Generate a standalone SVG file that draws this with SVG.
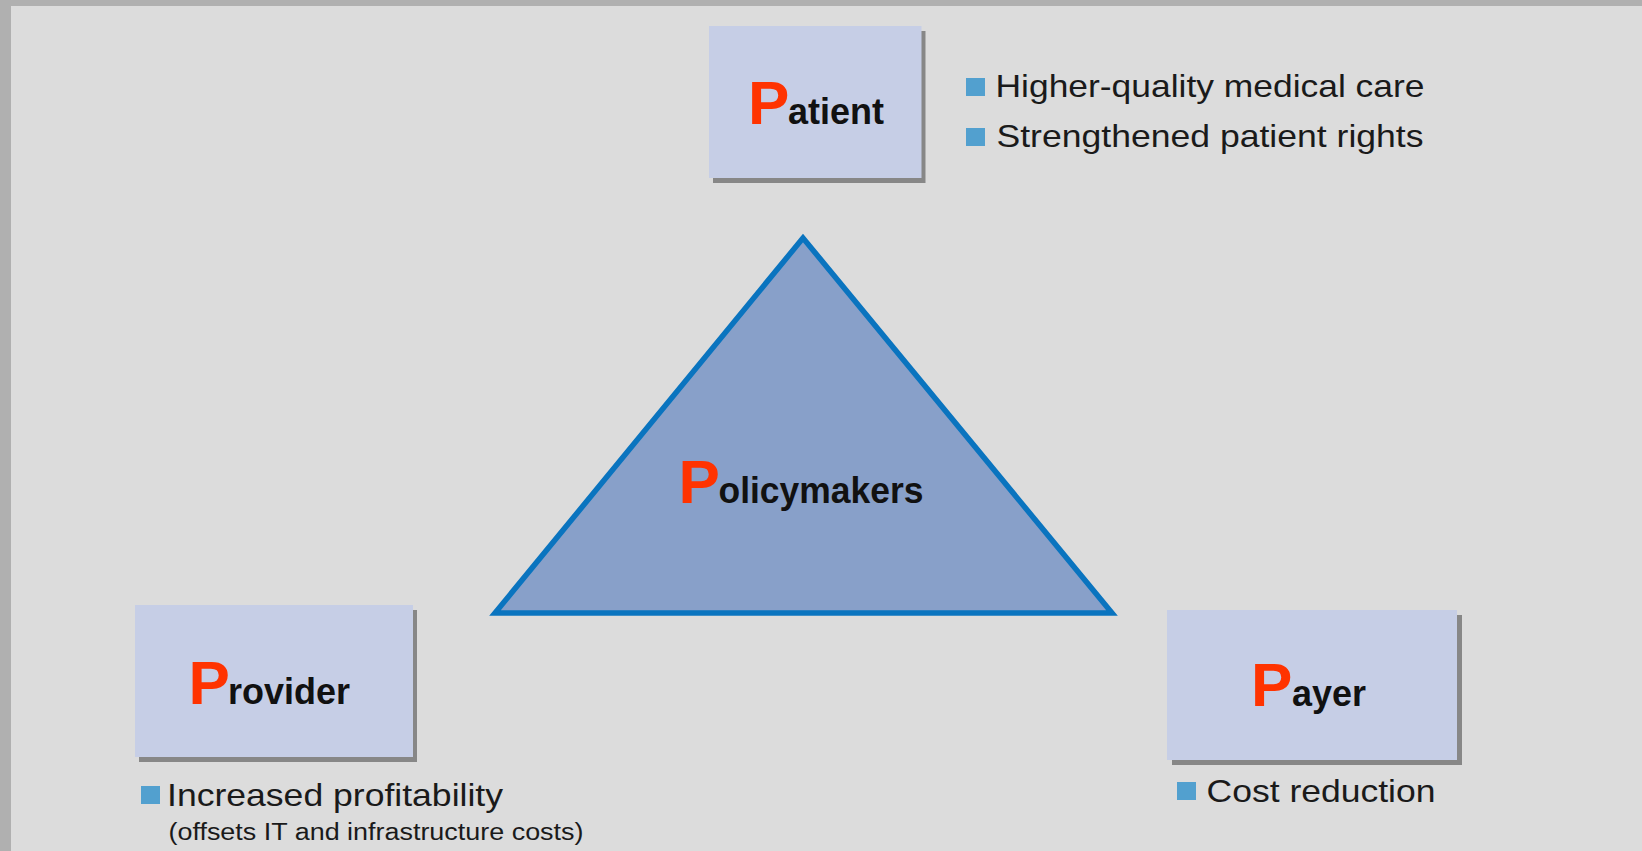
<svg xmlns="http://www.w3.org/2000/svg" width="1642" height="851" viewBox="0 0 1642 851">
<style>
.box{fill:#c6cee6}
.shadow{fill:#878787}
.bigP{font-family:"Liberation Sans",Arial,sans-serif;font-weight:bold;font-size:62px;fill:#ff3300}
.lbl{font-family:"Liberation Sans",Arial,sans-serif;font-weight:bold;font-size:37px;fill:#111}
.txt{font-family:"Liberation Sans",Arial,sans-serif;font-size:31.5px;fill:#1a1a1a}
.sub{font-family:"Liberation Sans",Arial,sans-serif;font-size:23.5px;fill:#1a1a1a}
.bul{fill:#52a0cf}
</style>
<rect x="0" y="0" width="1642" height="851" fill="#dcdcdc"/>
<rect x="0" y="0" width="1642" height="6" fill="#b0b0b0"/>
<rect x="0" y="0" width="11" height="851" fill="#b0b0b0"/>
<g id="connectors"/>
<g id="policymakers">
<polygon points="803,238 495,613 1112,613" fill="#88a0c9" stroke="#0a74bf" stroke-width="5.5" stroke-linejoin="miter"/>
<text class="bigP" x="678.5" y="503">P</text>
<text class="lbl" x="718.5" y="503" textLength="205" lengthAdjust="spacingAndGlyphs">olicymakers</text>
</g>
<g id="patient">
<rect class="shadow" x="713" y="31" width="212.5" height="152"/>
<rect class="box" x="709" y="26" width="212.5" height="152"/>
<text class="bigP" x="748" y="124">P</text>
<text class="lbl" x="788" y="124" textLength="96" lengthAdjust="spacingAndGlyphs">atient</text>
</g>
<g id="patient-benefits">
<rect class="bul" x="966" y="78" width="19" height="18"/>
<text class="txt" x="995.5" y="97" textLength="429" lengthAdjust="spacingAndGlyphs">Higher-quality medical care</text>
<rect class="bul" x="966" y="128" width="19" height="18"/>
<text class="txt" x="996.5" y="147" textLength="427" lengthAdjust="spacingAndGlyphs">Strengthened patient rights</text>
</g>
<g id="provider">
<rect class="shadow" x="139" y="610" width="278" height="152"/>
<rect class="box" x="135" y="605" width="278" height="152"/>
<text class="bigP" x="188.5" y="704">P</text>
<text class="lbl" x="228" y="704" textLength="122" lengthAdjust="spacingAndGlyphs">rovider</text>
</g>
<g id="provider-benefits">
<rect class="bul" x="141" y="786" width="19" height="18"/>
<text class="txt" x="167" y="806" textLength="336" lengthAdjust="spacingAndGlyphs">Increased profitability</text>
<text class="sub" x="168.5" y="840" textLength="415" lengthAdjust="spacingAndGlyphs">(offsets IT and infrastructure costs)</text>
</g>
<g id="payer">
<rect class="shadow" x="1172" y="615" width="290" height="150"/>
<rect class="box" x="1167" y="610" width="290" height="150"/>
<text class="bigP" x="1251" y="706">P</text>
<text class="lbl" x="1292" y="706" textLength="74" lengthAdjust="spacingAndGlyphs">ayer</text>
</g>
<g id="payer-benefits">
<rect class="bul" x="1177" y="782" width="19" height="18"/>
<text class="txt" x="1206.5" y="802" textLength="229" lengthAdjust="spacingAndGlyphs">Cost reduction</text>
</g>
</svg>
